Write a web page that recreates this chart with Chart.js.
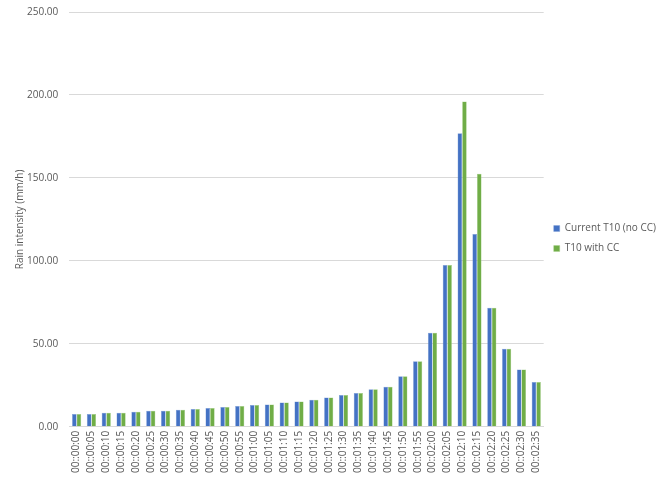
<!DOCTYPE html>
<html>
<head>
<meta charset="utf-8">
<script src="https://cdn.jsdelivr.net/npm/chart.js@4/dist/chart.umd.min.js"></script>
<style>
html,body{margin:0;padding:0;background:#fff;}
#wrap{width:662px;height:479px;position:relative;}
</style>
</head>
<body>
<div id="wrap"><canvas id="c" width="662" height="479"></canvas></div>
<script>
const categories = ["00::00:00","00::00:05","00::00:10","00::00:15","00::00:20","00::00:25","00::00:30","00::00:35","00::00:40","00::00:45","00::00:50","00::00:55","00::01:00","00::01:05","00::01:10","00::01:15","00::01:20","00::01:25","00::01:30","00::01:35","00::01:40","00::01:45","00::01:50","00::01:55","00::02:00","00::02:05","00::02:10","00::02:15","00::02:20","00::02:25","00::02:30","00::02:35"];
const currentT10 = [7.7,7.7,8.5,8.5,9.1,9.7,9.7,10.3,10.7,11.3,11.9,12.5,13.1,13.5,14.7,15.3,16.3,17.6,19.2,20.4,22.6,24.2,30.5,39.5,56.7,97.5,177.0,116.2,71.8,47.0,34.5,27.0];
const t10WithCC = [7.7,7.7,8.5,8.5,9.1,9.7,9.7,10.3,10.7,11.3,11.9,12.5,13.1,13.5,14.7,15.3,16.3,17.6,19.2,20.4,22.6,24.2,30.5,39.5,56.7,97.5,196.1,152.5,71.8,47.0,34.5,27.0];
const seriesNames = ["Current T10 (no CC)","T10 with CC"];
const yTicks = [0,50,100,150,200,250];

const font = "'Open Sans', 'Liberation Sans', sans-serif";
new Chart(document.getElementById('c'), {
  type: 'bar',
  data: {
    labels: categories,
    datasets: [
      {label: seriesNames[0], data: currentT10, backgroundColor: '#4472C4', borderColor: '#7f9fd8', borderWidth: {left:0.5,right:0.5,top:0.5,bottom:0}, categoryPercentage: 0.62, barPercentage: 1.0},
      {label: seriesNames[1], data: t10WithCC, backgroundColor: '#70AD47', borderColor: '#a3d087', borderWidth: {left:0.5,right:0.5,top:0.5,bottom:0}, categoryPercentage: 0.62, barPercentage: 1.0}
    ]
  },
  options: {
    responsive: false,
    animation: false,
    devicePixelRatio: 1,
    layout: {padding: {left: 14, right: -4, top: 0, bottom: 2}},
    plugins: {
      legend: {
        position: 'right',
        align: 'center',
        labels: {boxWidth: 6, boxHeight: 6, font: {family: font, size: 10}, color: '#595959', padding: 10}
      },
      tooltip: {enabled: false}
    },
    scales: {
      x: {
        grid: {display: false, drawTicks: false},
        border: {display: true, color: '#d9d9d9'},
        ticks: {minRotation: 90, maxRotation: 90, autoSkip: false, font: {family: font, size: 10}, color: '#595959', padding: 4}
      },
      y: {
        min: 0, max: 250,
        afterBuildTicks: (s) => { s.ticks = yTicks.map(v => ({value: v})); },
        grid: {color: '#d9d9d9', drawTicks: true, tickLength: 5, tickColor: 'rgba(0,0,0,0)'},
        border: {display: false},
        ticks: {font: {family: font, size: 10}, color: '#595959', padding: 6, callback: v => Number(v).toFixed(2)},
        title: {display: true, text: 'Rain intensity (mm/h)', font: {family: font, size: 10}, color: '#595959', padding: {top: 0, bottom: -5}}
      }
    }
  }
});
</script>
</body>
</html>
